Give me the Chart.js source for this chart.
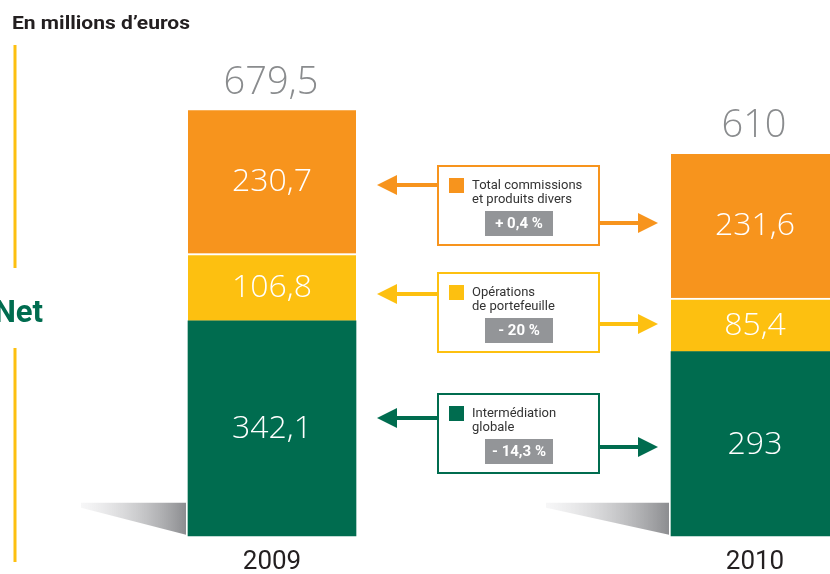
<!DOCTYPE html>
<html>
<head>
<meta charset="utf-8">
<script src="https://cdn.jsdelivr.net/npm/chart.js@4.4.1/dist/chart.umd.min.js"></script>
<style>
    html, body { margin: 0; padding: 0; background: #fff; }
    #wrap { width: 830px; height: 574px; }
</style>
</head>
<body>
<div id="wrap"><canvas id="chart" width="830" height="574"></canvas></div>
<script>
const years = ['2009', '2010'];
const intermediation = [342.1, 293];
const portefeuille = [106.8, 85.4];
const commissions = [230.7, 231.6];
const totals = [679.5, 610];

const seriesNames = [
    ['Intermédiation', 'globale'],
    ['Opérations', 'de portefeuille'],
    ['Total commissions', 'et produits divers']
];
const changes = ['- 14,3 %', '- 20 %', '+ 0,4 %'];
const colors = ['#006c4f', '#fdc010', '#f7941d'];

const fmt = v => String(v).replace('.', ',');

// ─── Helpers for the annotation boxes ──────────────────────────

function arrow(ctx, x1, x2, y, color) {
    // line from x1 to the head, head points to x2
    const dir = x2 > x1 ? 1 : -1;
    const headLen = 20, half = 10;
    ctx.strokeStyle = color;
    ctx.fillStyle = color;
    ctx.lineWidth = 4;
    ctx.beginPath();
    ctx.moveTo(x1, y);
    ctx.lineTo(x2 - dir * headLen, y);
    ctx.stroke();
    ctx.beginPath();
    ctx.moveTo(x2, y);
    ctx.lineTo(x2 - dir * headLen, y - half);
    ctx.lineTo(x2 - dir * headLen, y + half);
    ctx.closePath();
    ctx.fill();
}

function noteBox(ctx, i, top, leftArrowY, rightArrowY) {
    const left = 438, width = 161, height = 79;
    const color = colors[i];
    ctx.fillStyle = '#fff';
    ctx.fillRect(left, top, width, height);
    ctx.strokeStyle = color;
    ctx.lineWidth = 2;
    ctx.strokeRect(left, top, width, height);

    // swatch
    ctx.fillStyle = color;
    ctx.fillRect(left + 11, top + 12, 15, 15);

    // name
    ctx.fillStyle = '#333';
    ctx.font = '13px Roboto';
    ctx.textAlign = 'left';
    ctx.textBaseline = 'alphabetic';
    seriesNames[i].forEach((line, k) => ctx.fillText(line, left + 34, top + 23 + k * 14));

    // change badge
    ctx.fillStyle = '#939598';
    ctx.fillRect(left + 47, top + 45, 68, 25);
    ctx.fillStyle = '#fff';
    ctx.font = 'bold 15px Roboto';
    ctx.textAlign = 'center';
    ctx.textBaseline = 'middle';
    ctx.fillText(changes[i], left + 81, top + 58);

    arrow(ctx, left, 377, leftArrowY, color);
    arrow(ctx, left + width, 658, rightArrowY, color);
}

// ─── Plugin: shadows, value labels, totals, decorations ────────

const decor = {
    id: 'decor',
    beforeDatasetsDraw(chart) {
        const ctx = chart.ctx;
        const meta = chart.getDatasetMeta(0);
        meta.data.forEach((el, i) => {
            const { x, width, base } = el.getProps(['x', 'width', 'base'], true);
            const rx = x - width / 2 - 2;
            const lx = rx - (i === 0 ? 105 : 123);
            const top = base - 33;
            const g = ctx.createLinearGradient(lx, 0, rx, 0);
            g.addColorStop(0, 'rgba(235,235,237,0.4)');
            g.addColorStop(1, '#8c8d90');
            ctx.save();
            ctx.fillStyle = g;
            ctx.beginPath();
            ctx.moveTo(lx, top);
            ctx.lineTo(rx, top);
            ctx.lineTo(rx, base - 1);
            ctx.lineTo(lx, top + 5);
            ctx.closePath();
            ctx.fill();
            ctx.restore();
        });
    },
    afterDatasetsDraw(chart) {
        const ctx = chart.ctx;
        ctx.save();
        ctx.textAlign = 'center';
        ctx.textBaseline = 'middle';
        ctx.fillStyle = '#fff';
        ctx.font = '300 32px "Open Sans"';
        chart.data.datasets.forEach((ds, d) => {
            chart.getDatasetMeta(d).data.forEach((el, i) => {
                const { x, y, base } = el.getProps(['x', 'y', 'base'], true);
                ctx.fillText(fmt(ds.data[i]), x, (y + base) / 2 + 1);
            });
        });

        // totals above each stack
        const last = chart.getDatasetMeta(chart.data.datasets.length - 1);
        ctx.fillStyle = '#8a8c8e';
        ctx.font = '300 38px "Open Sans"';
        ctx.textBaseline = 'alphabetic';
        last.data.forEach((el, i) => {
            const { x, y } = el.getProps(['x', 'y'], true);
            ctx.fillText(fmt(totals[i]), x - 1, y - 15);
        });
        ctx.restore();
    },
    afterDraw(chart) {
        const ctx = chart.ctx;
        ctx.save();

        // title, condensed to the width of the original
        const title = 'En millions d\u2019euros';
        ctx.font = 'bold 19px Roboto';
        ctx.fillStyle = '#231f20';
        ctx.textAlign = 'left';
        ctx.textBaseline = 'alphabetic';
        const w = ctx.measureText(title).width;
        ctx.save();
        ctx.translate(12, 29);
        ctx.scale(178 / w, 1);
        ctx.fillText(title, 0, 0);
        ctx.restore();

        // left yellow rule and the cut-off "Net"
        ctx.strokeStyle = '#fdc010';
        ctx.lineWidth = 3;
        ctx.beginPath();
        ctx.moveTo(15, 45); ctx.lineTo(15, 268);
        ctx.moveTo(15, 348); ctx.lineTo(15, 562);
        ctx.stroke();

        ctx.fillStyle = '#006c4f';
        ctx.font = 'bold 31px Roboto';
        ctx.textAlign = 'right';
        ctx.fillText('Net', 43, 322);

        // note boxes between the bars
        noteBox(ctx, 2, 166, 185, 223);
        noteBox(ctx, 1, 273, 294, 324);
        noteBox(ctx, 0, 394, 418, 447);

        ctx.restore();
    }
};

const segment = (label, data, color, topBorder) => ({
    label,
    data,
    backgroundColor: color,
    borderColor: '#fff',
    borderWidth: { top: topBorder, right: 0, bottom: 0, left: 0 },
    borderSkipped: 'start',
    barThickness: 168,
    clip: false
});

new Chart(document.getElementById('chart'), {
    type: 'bar',
    data: {
        labels: years,
        datasets: [
            segment(seriesNames[0].join(' '), intermediation, colors[0], 0),
            segment(seriesNames[1].join(' '), portefeuille, colors[1], 2),
            segment(seriesNames[2].join(' '), commissions, colors[2], 2)
        ]
    },
    options: {
        responsive: false,
        animation: false,
        devicePixelRatio: 1,
        layout: { padding: { top: 33, left: 272, right: 75, bottom: -15 } },
        plugins: {
            legend: { display: false },
            tooltip: { enabled: false }
        },
        scales: {
            x: {
                stacked: true,
                offset: false,
                grid: { display: false, drawTicks: false },
                border: { display: false },
                ticks: {
                    color: '#231f20',
                    font: { family: 'Roboto', size: 26 },
                    padding: 11
                }
            },
            y: {
                stacked: true,
                display: false,
                min: 0,
                max: 800
            }
        }
    },
    plugins: [decor]
});
</script>
</body>
</html>
